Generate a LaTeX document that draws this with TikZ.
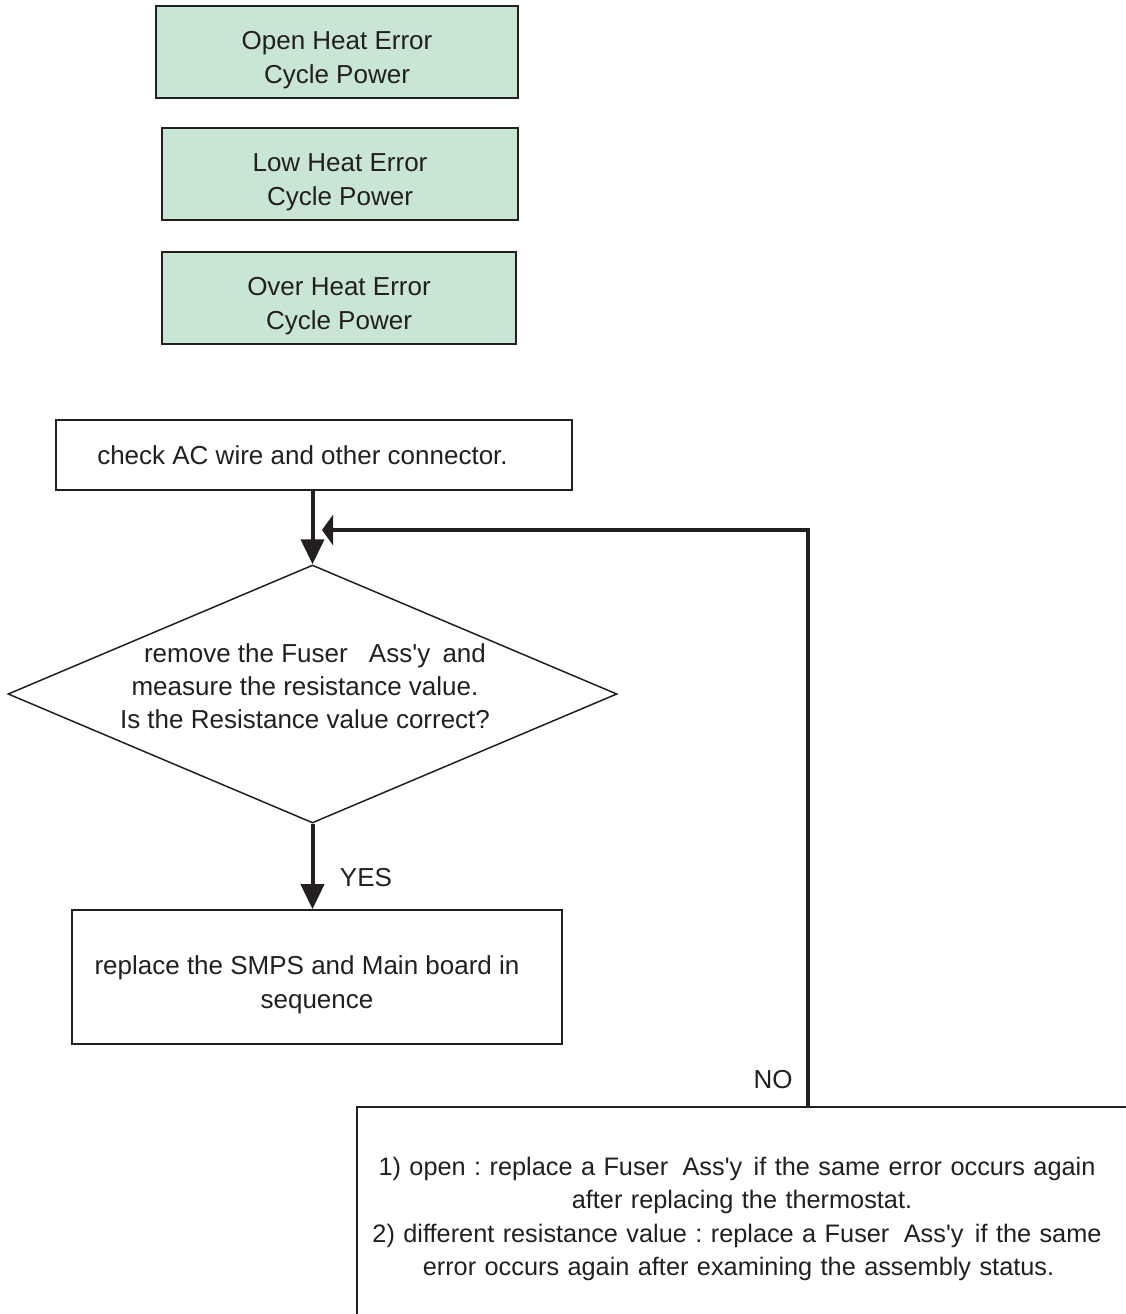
\documentclass[tikz,border=0pt]{standalone}
\usepackage{fontspec}
\setmainfont{Liberation Sans}[Ligatures=TeXOff]
\frenchspacing
\usetikzlibrary{shapes.geometric,arrows.meta}
\definecolor{errgreen}{RGB}{201,230,213}
\definecolor{inkgray}{RGB}{35,31,32}
\newcommand{\topgap}{\rule{0pt}{35pt}}
\tikzset{
  flowtext/.style={text=inkgray,font=\fontsize{26}{34}\selectfont,align=center},
  errbox/.style={flowtext,draw=inkgray,fill=errgreen,line width=1.6pt,inner sep=0pt},
  stepbox/.style={flowtext,draw=inkgray,line width=1.6pt,inner sep=0pt},
  decision/.style={diamond,draw=inkgray,line width=1.5pt,inner sep=0pt},
  downarrow/.style={draw=inkgray,line width=4pt,-{Triangle[length=25pt,width=23pt]}},
  backarrow/.style={draw=inkgray,line width=4pt,line join=miter,-{Triangle[length=11pt,width=30pt]}}
}
\begin{document}
\begin{tikzpicture}[x=1pt,y=-1pt]
  \useasboundingbox (0,0) rectangle (1126,1314);
  \clip (0,0) rectangle (1126,1314);
  \node[errbox,minimum width=362pt,minimum height=92pt] (openerr) at (337,52) {\topgap Open Heat Error\\Cycle Power};
  \node[errbox,minimum width=356pt,minimum height=92pt] (lowerr) at (340,174) {\topgap Low Heat Error\\Cycle Power};
  \node[errbox,minimum width=354pt,minimum height=92pt] (overerr) at (339,298) {\topgap Over Heat Error\\Cycle Power};
  \node[stepbox,minimum width=516pt,minimum height=70pt] (chk) at (314,455) {check AC wire and other connector.\hspace{23pt}};
  \node[decision,minimum width=609pt,minimum height=258pt] (dia) at (312.5,694) {};
  \node[flowtext,font=\fontsize{26}{33}\selectfont] (diatxt) at (305,686)
    {\hspace{20pt}remove the Fuser\hspace{14pt} Ass'y\hspace{5pt} and\\measure the resistance value.\\Is the Resistance value correct?};
  \node[stepbox,minimum width=490pt,minimum height=134pt] (repl) at (317,977) {\topgap replace the SMPS and Main board in\hspace*{20pt}\\sequence};
  \node[stepbox,anchor=north west,minimum width=800pt,minimum height=240pt] (fix) at (356,1106) {};
  \node[flowtext,text width=760pt,font=\fontsize{25.3}{33.3}\selectfont] (fixtxt) at (737,1219)
    {1) open : replace a Fuser\hspace{6pt} Ass'y\hspace{3pt} if the same error occurs again\\
     \hspace{10pt}after replacing the thermostat.\\
     2) different resistance value : replace a Fuser\hspace{6pt} Ass'y\hspace{3pt} if the same\\
     \hspace{3pt}error occurs again after examining the assembly status.};
  \node[flowtext] (yes) at (366,878) {YES};
  \node[flowtext] (no) at (773,1080) {NO};
  \coordinate (noturn) at (808,530);
  \coordinate (backin) at (322,530);
  \draw[downarrow] (chk.south -| dia.north) -- (dia.north);
  \draw[downarrow] (dia.south) -- (dia.south |- repl.north);
  \draw[backarrow] (noturn |- fix.north) -- (noturn) -- (backin);
\end{tikzpicture}
\end{document}
